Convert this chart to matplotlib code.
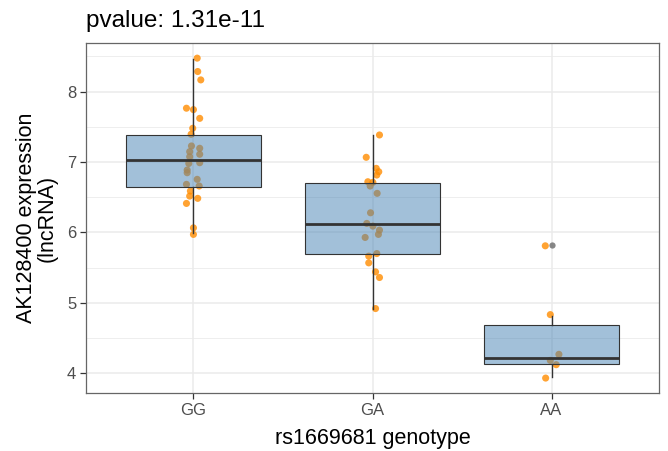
import numpy as np
import matplotlib.pyplot as plt

plt.rcParams['font.family'] = ['Liberation Sans', 'DejaVu Sans']

genotypes = ["GG", "GA", "AA"]

# expression values of each sample
gg_expr = [8.475, 8.285, 8.166, 7.764, 7.744, 7.62, 7.479, 7.394, 7.228, 7.195,
           7.147, 7.11, 7.075, 6.99, 6.98, 6.886, 6.848, 6.754, 6.683, 6.659,
           6.588, 6.516, 6.484, 6.412, 6.065, 5.972]
gg_jit = [0.021, 0.024, 0.041, -0.039, 0.0, 0.035, -0.004, -0.013, -0.011, 0.035,
          -0.021, 0.035, -0.021, 0.035, -0.026, -0.035, -0.035, 0.021, -0.039, 0.032,
          -0.017, -0.021, 0.024, -0.039, 0.0, 0.0]

ga_expr = [7.384, 7.067, 6.91, 6.862, 6.815, 6.72, 6.711, 6.659, 6.555, 6.279,
           6.128, 6.09, 6.033, 5.972, 5.929, 5.70, 5.663, 5.568, 5.44, 5.36, 4.919]
ga_jit = [0.039, -0.035, 0.021, 0.035, 0.024, -0.026, 0.002, -0.013, 0.026, -0.011,
          -0.032, 0.002, 0.039, 0.033, -0.041, 0.024, -0.021, -0.021, 0.017, 0.039, 0.017]

aa_expr = [5.81, 4.833, 4.269, 4.183, 4.122, 3.932]
aa_jit = [-0.035, -0.007, 0.041, -0.007, 0.026, -0.033]

# box statistics as drawn in the reference
q1 = [6.649, 5.70, 4.137]
median = [7.024, 6.122, 4.222]
q3 = [7.384, 6.706, 4.686]
whis_lo = [5.986, 4.913, 3.946]
whis_hi = [8.465, 7.38, 4.82]
outliers = [[], [], [5.815]]

pvalue = "1.31e-11"

fig = plt.figure(figsize=(6.68, 4.51), dpi=100)
ax = fig.add_axes([86 / 668, 58 / 451, 573 / 668, 350 / 451])

pos = np.arange(1, len(genotypes) + 1)

# jitter points first, box drawn over them
for i, (ex, jt) in enumerate([(gg_expr, gg_jit), (ga_expr, ga_jit), (aa_expr, aa_jit)]):
    ax.scatter(pos[i] + np.array(jt), ex, s=26, color="#ff8c00", alpha=0.8,
               edgecolors="none", zorder=2)

stats = []
for i in range(len(genotypes)):
    stats.append(dict(med=median[i], q1=q1[i], q3=q3[i], whislo=whis_lo[i],
                      whishi=whis_hi[i], fliers=outliers[i]))

bp = ax.bxp(stats, positions=pos, widths=0.75, patch_artist=True, showcaps=False,
            boxprops=dict(facecolor=(70/255, 130/255, 180/255, 0.5), edgecolor="#333333", linewidth=0.8),
            medianprops=dict(color="#333333", linewidth=2.0),
            whiskerprops=dict(color="#333333", linewidth=1.0),
            flierprops=dict(marker="o", markerfacecolor="#7a7a7a", markeredgecolor="none",
                            markersize=4.5, alpha=0.9))
for art in bp["boxes"] + bp["whiskers"] + bp["medians"] + bp["fliers"]:
    art.set_zorder(3)

ax.set_xlim(0.4, 3.6)
ax.set_ylim(3.72, 8.69)
ax.set_xticks(pos)
ax.set_xticklabels(genotypes)
ax.set_yticks([4, 5, 6, 7, 8])
ax.set_yticks([4.5, 5.5, 6.5, 7.5, 8.5], minor=True)

ax.grid(True, which="major", color="#ebebeb", linewidth=1.1, zorder=0)
ax.grid(True, which="minor", axis="y", color="#ebebeb", linewidth=0.6, zorder=0)
ax.set_axisbelow(True)
ax.tick_params(which="major", length=4, width=0.9, color="#333333", labelcolor="#4d4d4d",
               labelsize=12, pad=3)
ax.tick_params(which="minor", length=0)
for sp in ax.spines.values():
    sp.set_color("#666666")
    sp.set_linewidth(0.9)

ax.set_xlabel("rs1669681 genotype", fontsize=15.5)
ax.set_ylabel("AK128400 expression\n(lncRNA)", fontsize=15.5, linespacing=1.0)
ax.xaxis.set_label_coords(0.5, -0.1)
ax.yaxis.set_label_coords(-0.049, 0.5)

fig.text(86 / 668, 1 - 27 / 451, "pvalue: " + pvalue, fontsize=17.5, va="baseline", ha="left")

fig.savefig("out.png", dpi=100)
